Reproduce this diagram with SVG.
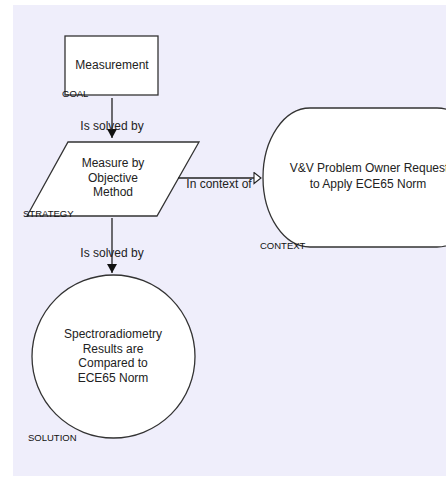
<svg xmlns="http://www.w3.org/2000/svg" width="446" height="477" viewBox="0 0 446 477">
<defs>
<style>
.bg{fill:#EFEEFB}
.shape{fill:#FFFFFF;stroke:#333333;stroke-width:1.3}
.t{font-family:"Liberation Sans",Arial,sans-serif;font-size:12px;fill:#222222;text-anchor:middle}
.lbl{font-family:"Liberation Sans",Arial,sans-serif;font-size:9.5px;fill:#111111}
.edge{stroke:#222222;stroke-width:1.3;fill:none}
</style>
<marker id="filled" markerWidth="10" markerHeight="10" refX="9" refY="5" orient="auto" markerUnits="userSpaceOnUse">
<path d="M0,0 L9,5 L0,10 Z" fill="#111111"/>
</marker>
<marker id="open" markerWidth="10" markerHeight="14" refX="8" refY="6" orient="auto" markerUnits="userSpaceOnUse">
<path d="M1,0.5 L8,6 L1,11.5 Z" fill="#FFFFFF" stroke="#222222" stroke-width="1.1"/>
</marker>
</defs>
<rect class="bg" x="13" y="5" width="433" height="471"/>

<g id="goal">
<rect class="shape" x="65" y="36" width="93" height="59"/>
<text class="t" x="112" y="69">Measurement</text>
<text class="lbl" x="62" y="97">GOAL</text>
</g>

<g id="strategy">
<polygon class="shape" points="68,142 199,142 157,216 27,216"/>
<text class="t" x="113" y="167">Measure by</text>
<text class="t" x="113" y="182">Objective</text>
<text class="t" x="113" y="196">Method</text>
<text class="lbl" x="23" y="217">STRATEGY</text>
</g>

<g id="context">
<path class="shape" d="M310,108 L437,108 A47,69.5 0 0 1 437,247 L310,247 A47,69.5 0 0 1 310,108 Z"/>
<text class="t" x="369" y="172">V&amp;V Problem Owner Request</text>
<text class="t" x="368" y="188">to Apply ECE65 Norm</text>
<text class="lbl" x="260" y="249">CONTEXT</text>
</g>

<g id="solution">
<circle class="shape" cx="113.5" cy="356.5" r="81.5"/>
<text class="t" x="113" y="338">Spectroradiometry</text>
<text class="t" x="113" y="353">Results are</text>
<text class="t" x="113" y="367">Compared to</text>
<text class="t" x="113" y="382">ECE65 Norm</text>
<text class="lbl" x="28" y="441">SOLUTION</text>
</g>

<g id="connectors">
<line class="edge" x1="112" y1="98" x2="112" y2="138" marker-end="url(#filled)"/>
<text class="t" x="112" y="130">Is solved by</text>
<line class="edge" x1="178" y1="178" x2="261" y2="178" marker-end="url(#open)"/>
<text class="t" x="219" y="188">In context of</text>
<line class="edge" x1="112" y1="218" x2="112" y2="273" marker-end="url(#filled)"/>
<text class="t" x="112" y="257">Is solved by</text>
</g>
</svg>
